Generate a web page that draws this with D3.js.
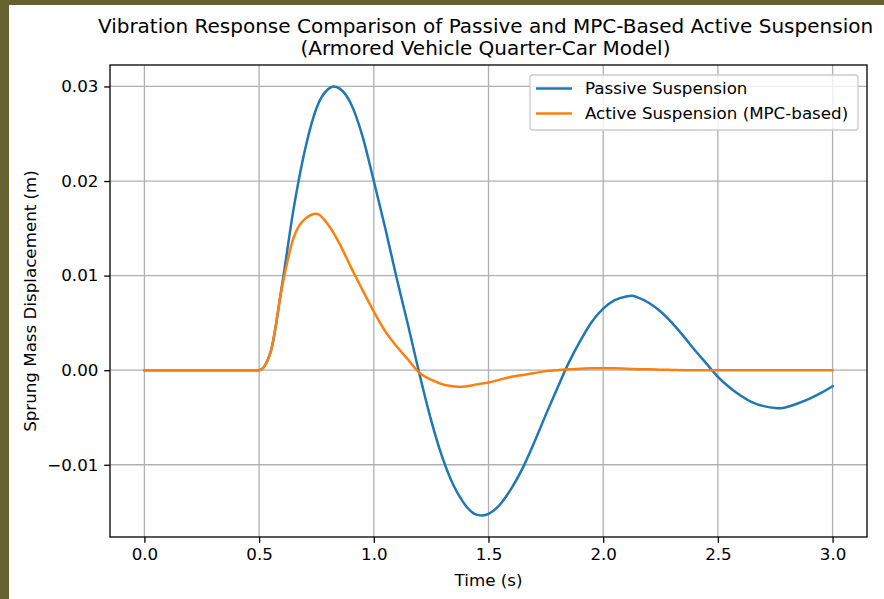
<!DOCTYPE html>
<html><head><meta charset="utf-8">
<script src="https://cdn.jsdelivr.net/npm/d3@7"></script>
<style>body{margin:0;background:#66622f;}svg{display:block;}</style>
</head><body>
<svg id="c" width="884" height="599"></svg>
<script>
const times = [0.00,0.05,0.10,0.15,0.20,0.25,0.30,0.35,0.40,0.45,0.50,0.55,0.60,0.65,0.70,0.75,0.80,0.825,0.85,0.90,0.95,1.00,1.05,1.10,1.15,1.20,1.25,1.30,1.35,1.375,1.40,1.45,1.475,1.50,1.55,1.60,1.65,1.70,1.75,1.80,1.85,1.90,1.95,2.00,2.05,2.10,2.125,2.15,2.20,2.25,2.30,2.35,2.40,2.45,2.50,2.55,2.60,2.65,2.70,2.75,2.775,2.80,2.85,2.90,2.95,3.00];
const passive = [0,0,0,0,0,0,0,0,0,0,0,0.0019,0.0090,0.0170,0.0233,0.0277,0.0297,0.0300,0.0298,0.0282,0.0248,0.0200,0.0150,0.0097,0.0047,-0.0005,-0.0053,-0.0093,-0.0123,-0.0134,-0.0143,-0.0153,-0.01537,-0.0152,-0.0142,-0.0125,-0.0103,-0.0076,-0.0047,-0.0019,0.0008,0.0031,0.0051,0.0065,0.0074,0.0078,0.00787,0.0077,0.0071,0.0062,0.0050,0.0036,0.0021,0.0007,-0.0007,-0.0018,-0.0027,-0.0034,-0.0038,-0.0040,-0.00402,-0.0039,-0.0035,-0.0030,-0.0024,-0.0017];
const active = [0,0,0,0,0,0,0,0,0,0,0,0.0019,0.0088,0.0140,0.0160,0.01653,0.0154,0.0145,0.0134,0.0109,0.0085,0.0062,0.0041,0.0025,0.0011,-0.0003,-0.0010,-0.0015,-0.00172,-0.00177,-0.00172,-0.0015,-0.0014,-0.0013,-0.0010,-0.0007,-0.0005,-0.0003,-0.0001,0.0000,0.0001,0.00015,0.0002,0.0002,0.0002,0.00015,0.00012,0.0001,0.0001,0.00005,0.00003,0,0,0,0,0,0,0,0,0,0,0,0,0,0,0];
const xTicks = [0.0,0.5,1.0,1.5,2.0,2.5,3.0];
const yTicks = [-0.01,0.00,0.01,0.02,0.03];
const seriesNames = ["Passive Suspension","Active Suspension (MPC-based)"];
const colors = ["#1f77b4","#ff7f0e"];
const titleLines = ["Vibration Response Comparison of Passive and MPC-Based Active Suspension","(Armored Vehicle Quarter-Car Model)"];

const svg = d3.select("#c");
const font = "DejaVu Sans, sans-serif";
const fs = 16.7;
svg.append("rect").attr("x",9).attr("y",5).attr("width",875).attr("height",594).attr("fill","#fff");

const L=110, R=867, T=65, B=537;
const allV = passive.concat(active);
const vmin=d3.min(allV), vmax=d3.max(allV), pad=(vmax-vmin)*0.05;
const x = d3.scaleLinear().domain([-0.15,3.15]).range([L,R]);
const y = d3.scaleLinear().domain([vmin-pad, vmax+pad]).range([B,T]);

// grid
const g = svg.append("g");
g.selectAll(".gx").data(xTicks).enter().append("line")
 .attr("x1",d=>x(d)).attr("x2",d=>x(d)).attr("y1",T).attr("y2",B)
 .attr("stroke","#b0b0b0").attr("stroke-width",1.3);
g.selectAll(".gy").data(yTicks).enter().append("line")
 .attr("y1",d=>y(d)).attr("y2",d=>y(d)).attr("x1",L).attr("x2",R)
 .attr("stroke","#b0b0b0").attr("stroke-width",1.3);

// lines
const line = d3.line().x((d,i)=>x(times[i])).y(d=>y(d)).curve(d3.curveMonotoneX);
[passive,active].forEach((s,k)=>{
  svg.append("path").datum(s).attr("d",line).attr("fill","none")
   .attr("stroke",colors[k]).attr("stroke-width",2.5).attr("stroke-linejoin","round").attr("stroke-linecap","square");
});

// axes
const xa = svg.append("g").attr("transform",`translate(0,${B})`)
 .call(d3.axisBottom(x).tickValues(xTicks).tickFormat(d3.format(".1f")).tickSizeOuter(0).tickSize(5.8).tickPadding(5.8));
const ya = svg.append("g").attr("transform",`translate(${L},0)`)
 .call(d3.axisLeft(y).tickValues(yTicks).tickFormat(d=>d3.format(".2f")(d).replace("-","\u2212")).tickSizeOuter(0).tickSize(5.8).tickPadding(5.8));
[xa,ya].forEach(a=>{
  a.select(".domain").remove();
  a.selectAll("text").attr("font-family",font).attr("font-size",fs).attr("fill","#000");
  a.selectAll("line").attr("stroke","#000").attr("stroke-width",1.3);
});
xa.selectAll("text").attr("dy","0.71em");
svg.append("rect").attr("x",L).attr("y",T).attr("width",R-L).attr("height",B-T)
 .attr("fill","none").attr("stroke","#000").attr("stroke-width",1.3);

// labels
svg.append("text").attr("x",(L+R)/2).attr("y",586).attr("text-anchor","middle")
 .attr("font-family",font).attr("font-size",fs).text("Time (s)");
svg.append("text").attr("transform",`translate(36,${(T+B)/2}) rotate(-90)`).attr("text-anchor","middle")
 .attr("font-family",font).attr("font-size",fs).text("Sprung Mass Displacement (m)");
titleLines.forEach((t,i)=>{
  svg.append("text").attr("x",(L+R)/2 - 3).attr("y",33+i*22).attr("text-anchor","middle")
   .attr("font-family",font).attr("font-size",20).text(t);
});

// legend
const lg = svg.append("g");
lg.append("rect").attr("x",530).attr("y",75).attr("width",328).attr("height",55).attr("rx",3)
 .attr("fill","#fff").attr("fill-opacity",0.8).attr("stroke","#cccccc").attr("stroke-width",1.3);
seriesNames.forEach((n,i)=>{
  const yy = 88.5 + i*25;
  lg.append("line").attr("x1",536).attr("x2",572).attr("y1",yy).attr("y2",yy)
   .attr("stroke",colors[i]).attr("stroke-width",2.5);
  lg.append("text").attr("x",585).attr("y",yy).attr("dy","0.35em")
   .attr("font-family",font).attr("font-size",fs).text(n);
});
</script>
</body></html>
